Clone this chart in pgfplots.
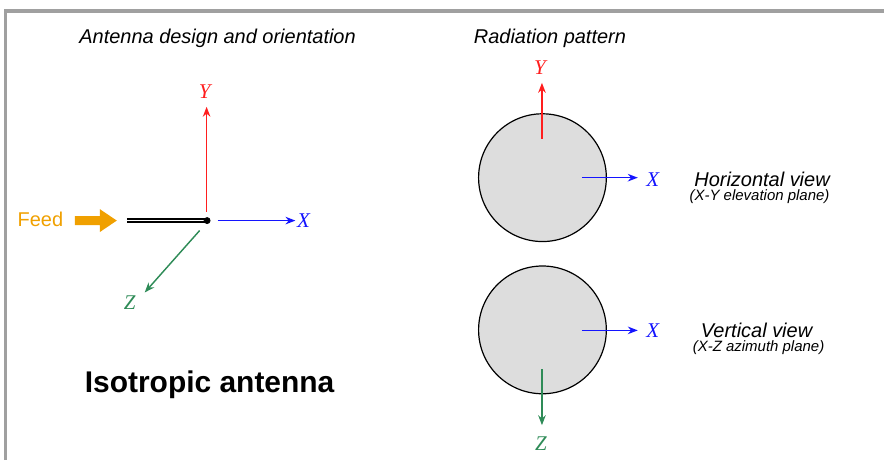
\documentclass[border=0pt]{standalone}
\usepackage{pgfplots}
\pgfplotsset{compat=1.18}
\usepackage{fontspec}
\setmainfont{Liberation Sans}
\newfontfamily\serifit{Liberation Serif}[ItalicFont=* Italic]
\usetikzlibrary{arrows.meta}
\definecolor{feedor}{RGB}{240,160,0}
\definecolor{axred}{RGB}{255,30,30}
\definecolor{axblue}{RGB}{20,20,255}
\definecolor{axgreen}{RGB}{46,139,87}
\definecolor{frame}{RGB}{160,160,160}
\definecolor{cfill}{RGB}{221,221,221}
\tikzset{ar/.style={line width=0.72pt,-{Stealth[length=5pt,width=3.8pt]}}}
\newcommand{\lab}[1]{\fontsize{10.5}{12}\selectfont\serifit\itshape #1}
\begin{document}
\begin{tikzpicture}
\begin{axis}[
  width=443pt, height=230.5pt, scale only axis, hide axis,
  xmin=0, xmax=886, ymin=0, ymax=461, y dir=reverse, clip=false]
\path (axis cs:0,0) (axis cs:886,461);
% frame
\addplot[frame, line width=1.7pt, mark=none] coordinates {(5.3,461) (5.3,11) (886,11)};
% titles
\node[anchor=base, font=\fontsize{10}{12}\selectfont\itshape] at (axis cs:218,44) {Antenna design and orientation};
\node[anchor=base, font=\fontsize{10}{12}\selectfont\itshape] at (axis cs:551,44) {Radiation pattern};
% feed
\node[anchor=base, text=feedor, font=\fontsize{10}{12}\selectfont] at (axis cs:40.5,227) {Feed};
\addplot[fill=feedor, draw=none, mark=none] coordinates {(75,216.5) (100,216.5) (100,209.5) (117,221) (100,232.5) (100,225.5) (75,225.5)} -- cycle;
% antenna
\addplot[black, double=white, double distance=0.7pt, line width=0.75pt, mark=none] coordinates {(127,221) (207,221)};
\addplot[black, only marks, mark=*, mark size=1.5pt] coordinates {(207.5,221)};
% left axes
\addplot[axred, ar, mark=none] coordinates {(207,212) (207,107)};
\node[anchor=base, text=axred] at (axis cs:205,99) {\lab{Y}};
\addplot[axblue, ar, mark=none] coordinates {(218,221) (296,221)};
\node[anchor=base, text=axblue] at (axis cs:304,228) {\lab{X}};
\addplot[axgreen, ar, mark=none] coordinates {(200,231) (145,293)};
\node[anchor=base, text=axgreen] at (axis cs:130,310) {\lab{Z}};
\node[anchor=base, font=\fontsize{15}{18}\selectfont\bfseries] at (axis cs:210,393) {Isotropic antenna};
% radiation patterns
\draw[black, line width=0.6pt, fill=cfill] (axis cs:543.5,178) circle [radius=64];
\draw[black, line width=0.6pt, fill=cfill] (axis cs:543.5,330.5) circle [radius=64];
\addplot[axred, ar, mark=none] coordinates {(543,139) (543,83)};
\node[anchor=base, text=axred] at (axis cs:541,75) {\lab{Y}};
\addplot[axblue, ar, mark=none] coordinates {(583,178) (639,178)};
\node[anchor=base, text=axblue] at (axis cs:654,187) {\lab{X}};
\addplot[axblue, ar, mark=none] coordinates {(583,331) (639,331)};
\node[anchor=base, text=axblue] at (axis cs:654,338) {\lab{X}};
\addplot[axgreen, ar, mark=none] coordinates {(543,370) (543,426)};
\node[anchor=base, text=axgreen] at (axis cs:542,451) {\lab{Z}};
\node[anchor=base, font=\fontsize{10}{12}\selectfont\itshape] at (axis cs:763.5,187) {Horizontal view};
\node[anchor=base, font=\fontsize{7.5}{9}\selectfont\itshape] at (axis cs:761,201) {(X-Y elevation plane)};
\node[anchor=base, font=\fontsize{10}{12}\selectfont\itshape] at (axis cs:758,338) {Vertical view};
\node[anchor=base, font=\fontsize{7.5}{9}\selectfont\itshape] at (axis cs:760,352.5) {(X-Z azimuth plane)};
\end{axis}
\end{tikzpicture}
\end{document}
